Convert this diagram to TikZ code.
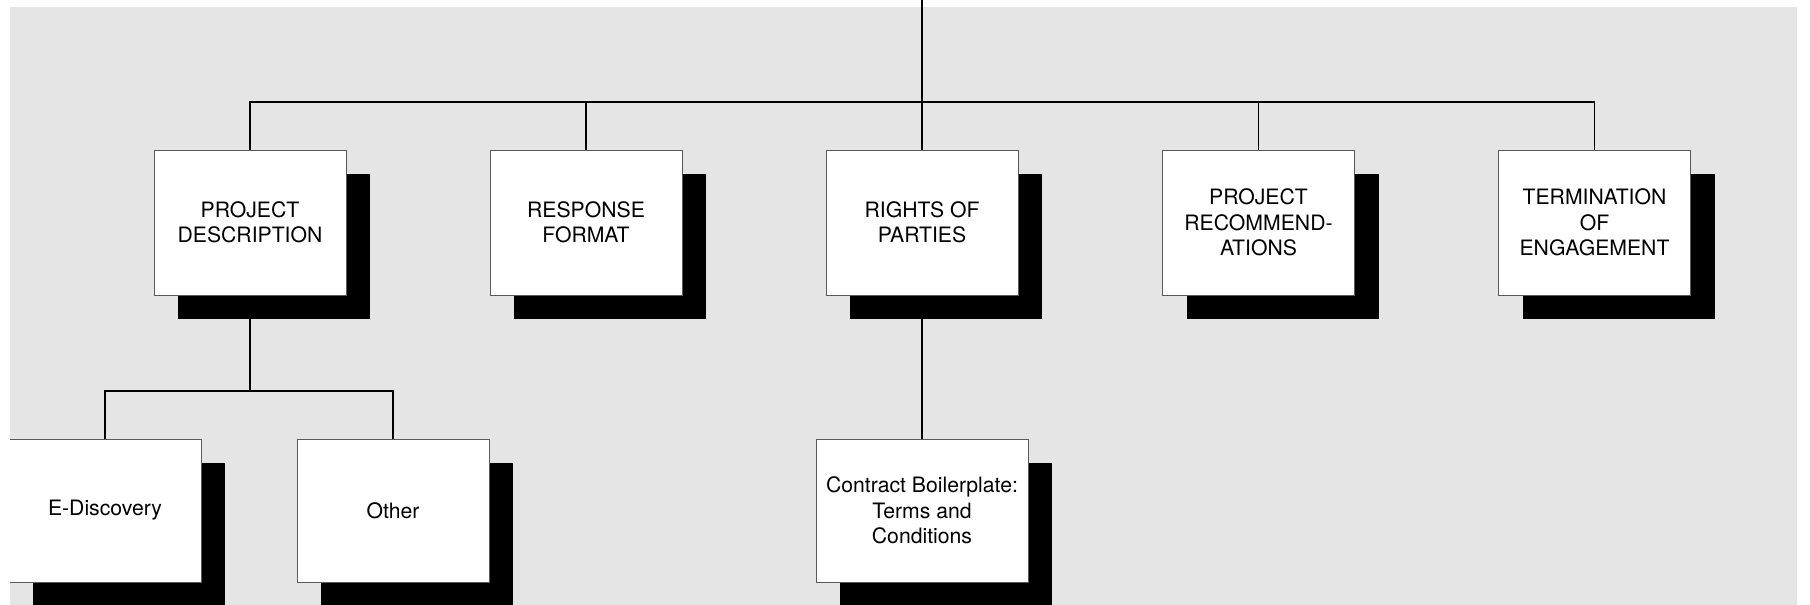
\documentclass[tikz,border=0pt]{standalone}
\usepackage{fontspec}
\setmainfont{TeX Gyre Heros}
\usetikzlibrary{shadows}
\definecolor{panel}{HTML}{E5E5E5}
\definecolor{edge}{HTML}{5A5A5A}
\tikzset{
  card/.style={draw=edge, line width=0.5pt, fill=white, inner sep=0pt, align=center,
    minimum width=96pt, minimum height=72.5pt,
    drop shadow={shadow xshift=12pt, shadow yshift=-12pt, fill=black, opacity=1}},
  link/.style={line width=0.7pt}
}
\begin{document}
\begin{tikzpicture}[x=0.5pt,y=-0.5pt, font=\fontsize{10.6}{12.7}\selectfont]
\useasboundingbox (0,0) rectangle (1810,605);
\clip (10,0) rectangle (1797,605);
\fill[panel] (10,7) rectangle (1797,605);
\node[card] (desc) at (250,222.5) {PROJECT\\DESCRIPTION};
\node[card] (resp) at (586,222.5) {RESPONSE\\FORMAT};
\node[card] (rights) at (922,222.5) {RIGHTS OF\\PARTIES};
\node[card] (recom) at (1258.5,222.5) {PROJECT\\RECOMMEND-\\ATIONS};
\node[card] (quit) at (1594.5,222.5) {TERMINATION\\OF\\ENGAGEMENT};
\node[card, minimum height=71.5pt] (edisc) at (105,510.5) {E-Discovery};
\node[card, minimum height=71.5pt] (other) at (393,510.5) {Other};
\node[card, minimum height=71.5pt, minimum width=106pt] (terms) at (922,510.5) {Contract Boilerplate:\\Terms and\\Conditions};
\coordinate (top) at (922,0);
\coordinate (bus) at (922,102);
\coordinate (fork) at (250,391);
\draw[link] (top) -- (bus);
\draw[link] (desc.north) |- (bus) -| (quit.north);
\foreach \n in {resp,rights,recom}
  \draw[link] (\n.north) -- (\n.north |- bus);
\draw[link] (desc.south) -- (fork);
\draw[link] (edisc.north) |- (fork) -| (other.north);
\draw[link] (rights.south) -- (terms.north);
\end{tikzpicture}
\end{document}
